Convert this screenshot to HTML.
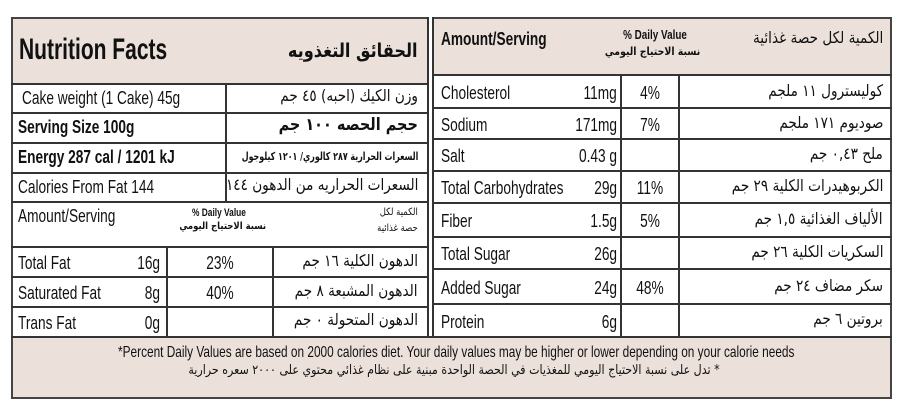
<!DOCTYPE html>
<html><head><meta charset="utf-8"><style>
body{margin:0;width:908px;height:407px;background:#fff;position:relative;overflow:hidden;font-family:"Liberation Sans","Noto Sans CJK SC",sans-serif;color:#111}
.b{position:absolute;box-sizing:border-box}
.h{background:#ece0da}
.l{position:absolute;background:#333}
.t{position:absolute;white-space:nowrap;font-size:18px;line-height:1;transform:scaleX(.76);transform-origin:left top}
.r{transform-origin:right top}
.c{text-align:center;transform-origin:center top}
.ar{direction:rtl;font-family:"DejaVu Sans","Noto Sans CJK SC",sans-serif;font-size:16px;transform:scaleX(.85);transform-origin:right top}
</style></head><body>
<div class="b h" style="left:11px;top:17px;width:417px;height:66px"></div>
<div class="b h" style="left:433px;top:17px;width:459px;height:57px"></div>
<div class="b h" style="left:11px;top:337px;width:881px;height:61px"></div>
<div class="b" style="left:11px;top:17px;width:881px;height:382px;border:2px solid #444"></div>
<div class="l" style="left:428px;top:17px;width:5px;height:321px;background:#fff"></div>
<div class="l" style="left:427px;top:17px;width:2px;height:321px"></div>
<div class="l" style="left:432px;top:17px;width:2px;height:321px"></div>
<div class="l" style="left:11px;top:83px;width:417px;height:2px"></div>
<div class="l" style="left:11px;top:112px;width:417px;height:2px"></div>
<div class="l" style="left:11px;top:142px;width:417px;height:2px"></div>
<div class="l" style="left:11px;top:172px;width:417px;height:2px"></div>
<div class="l" style="left:11px;top:201px;width:417px;height:2px"></div>
<div class="l" style="left:11px;top:246px;width:417px;height:2px"></div>
<div class="l" style="left:11px;top:276px;width:417px;height:2px"></div>
<div class="l" style="left:11px;top:306px;width:417px;height:2px"></div>
<div class="l" style="left:11px;top:336px;width:881px;height:2px"></div>
<div class="l" style="left:225px;top:83px;width:2px;height:119px"></div>
<div class="l" style="left:166px;top:246px;width:2px;height:91px"></div>
<div class="l" style="left:272px;top:246px;width:2px;height:91px"></div>
<div class="l" style="left:433px;top:74px;width:459px;height:2px"></div>
<div class="l" style="left:433px;top:107px;width:459px;height:2px"></div>
<div class="l" style="left:433px;top:138px;width:459px;height:2px"></div>
<div class="l" style="left:433px;top:170px;width:459px;height:2px"></div>
<div class="l" style="left:433px;top:202px;width:459px;height:2px"></div>
<div class="l" style="left:433px;top:236px;width:459px;height:2px"></div>
<div class="l" style="left:433px;top:268px;width:459px;height:2px"></div>
<div class="l" style="left:433px;top:303px;width:459px;height:2px"></div>
<div class="l" style="left:620px;top:74px;width:2px;height:263px"></div>
<div class="l" style="left:678px;top:74px;width:2px;height:263px"></div>

<!-- left text -->
<div class="t" style="left:19px;top:35px;font-size:30px;font-weight:bold;transform:scaleX(.7)">Nutrition Facts</div>
<div class="t ar" style="right:490px;top:42px;font-size:19px;font-weight:bold">الحقائق التغذويه</div>
<div class="t" style="left:22px;top:89px">Cake weight (1 Cake)  45g</div>
<div class="t ar" style="right:490px;top:88px">وزن الكيك (احبه) ٤٥ جم</div>
<div class="t" style="left:18px;top:118px;font-weight:bold">Serving Size 100g</div>
<div class="t ar" style="right:490px;top:117px;font-weight:bold;font-size:17px">حجم الحصه ١٠٠ جم</div>
<div class="t" style="left:18px;top:148px;font-weight:bold">Energy  287 cal / 1201  kJ</div>
<div class="t ar" style="right:490px;top:151px;font-weight:bold;font-size:11px;transform:scaleX(.72)">السعرات الحرارية ٢٨٧ كالوري/ ١٢٠١ كيلوجول</div>
<div class="t" style="left:18px;top:178px">Calories From Fat 144</div>
<div class="t ar" style="right:490px;top:177px">السعرات الحراريه من الدهون ١٤٤</div>
<div class="t" style="left:18px;top:207px">Amount/Serving</div>
<div class="t" style="left:192px;top:208px;font-size:11px;font-weight:bold">% Daily Value</div>
<div class="t ar" style="right:642px;top:222px;font-size:10px;font-weight:bold">نسبة الاحتياج اليومي</div>
<div class="t ar" style="right:490px;top:208px;font-size:10px">الكمية لكل</div>
<div class="t ar" style="right:490px;top:224px;font-size:10px">حصة غذائية</div>
<div class="t" style="left:18px;top:254px">Total Fat</div><div class="t r" style="right:748px;top:254px">16g</div><div class="t c" style="left:168px;width:104px;top:254px">23%</div>
<div class="t ar" style="right:490px;top:253px">الدهون الكلية ١٦ جم</div>
<div class="t" style="left:18px;top:284px">Saturated Fat</div><div class="t r" style="right:748px;top:284px">8g</div><div class="t c" style="left:168px;width:104px;top:284px">40%</div>
<div class="t ar" style="right:490px;top:283px">الدهون المشبعة ٨ جم</div>
<div class="t" style="left:18px;top:314px">Trans Fat</div><div class="t r" style="right:748px;top:314px">0g</div>
<div class="t ar" style="right:490px;top:312px">الدهون المتحولة ٠ جم</div>

<!-- right text -->
<div class="t" style="left:441px;top:30px;font-weight:bold">Amount/Serving</div>
<div class="t c" style="left:590px;width:130px;top:28px;font-size:13px;font-weight:bold">% Daily Value</div>
<div class="t ar" style="right:208px;top:46px;font-size:11px;font-weight:bold">نسبة الاحتياج اليومي</div>
<div class="t ar" style="right:25px;top:30px">الكمية لكل حصة غذائية</div>
<div class="t" style="left:441px;top:84px">Cholesterol</div><div class="t r" style="right:291px;top:84px">11mg</div><div class="t c" style="left:622px;width:56px;top:84px">4%</div>
<div class="t ar" style="right:25px;top:83px">كوليسترول ١١ ملجم</div>
<div class="t" style="left:441px;top:116px">Sodium</div><div class="t r" style="right:291px;top:116px">171mg</div><div class="t c" style="left:622px;width:56px;top:116px">7%</div>
<div class="t ar" style="right:25px;top:115px">صوديوم ١٧١ ملجم</div>
<div class="t" style="left:441px;top:147px">Salt</div><div class="t r" style="right:291px;top:147px">0.43 g</div>
<div class="t ar" style="right:25px;top:146px">ملح ٠,٤٣ جم</div>
<div class="t" style="left:441px;top:179px">Total Carbohydrates</div><div class="t r" style="right:291px;top:179px">29g</div><div class="t c" style="left:622px;width:56px;top:179px">11%</div>
<div class="t ar" style="right:25px;top:178px">الكربوهيدرات الكلية ٢٩ جم</div>
<div class="t" style="left:441px;top:212px">Fiber</div><div class="t r" style="right:291px;top:212px">1.5g</div><div class="t c" style="left:622px;width:56px;top:212px">5%</div>
<div class="t ar" style="right:25px;top:211px">الألياف الغذائية ١,٥ جم</div>
<div class="t" style="left:441px;top:245px">Total Sugar</div><div class="t r" style="right:291px;top:245px">26g</div>
<div class="t ar" style="right:25px;top:244px">السكريات الكلية ٢٦ جم</div>
<div class="t" style="left:441px;top:279px">Added Sugar</div><div class="t r" style="right:291px;top:279px">24g</div><div class="t c" style="left:622px;width:56px;top:279px">48%</div>
<div class="t ar" style="right:25px;top:278px">سكر مضاف ٢٤ جم</div>
<div class="t" style="left:441px;top:313px">Protein</div><div class="t r" style="right:291px;top:313px">6g</div>
<div class="t ar" style="right:25px;top:311px">بروتين ٦ جم</div>

<!-- footer -->
<div class="t c" style="left:0;width:908px;top:345px;font-size:16px;transform:scaleX(.74)">*Percent Daily Values are based on 2000 calories diet. Your daily values may be higher or lower depending on your calorie needs</div>
<div class="t ar" style="left:0;width:908px;text-align:center;top:364px;font-size:13px;transform:scaleX(.85);transform-origin:center top">* تدل على نسبة الاحتياج اليومي للمغذيات في الحصة الواحدة مبنية على نظام غذائي محتوي على ٢٠٠٠ سعره حرارية</div>
</body></html>
